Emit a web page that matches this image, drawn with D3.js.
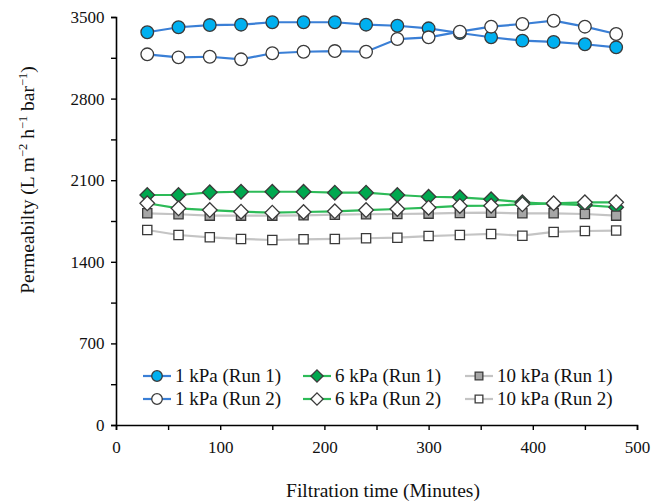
<!DOCTYPE html>
<html>
<head>
<meta charset="utf-8">
<script src="https://cdn.jsdelivr.net/npm/d3@7"></script>
<style>
  body { margin: 0; background: #fff; }
  text { font-family: "Liberation Serif", "Times New Roman", serif; fill: #111; }
</style>
</head>
<body>
<div id="chart"></div>
<script>
// filtration time (minutes)
const times = [30, 60, 90, 120, 150, 180, 210, 240, 270, 300, 330, 360, 390, 420, 450, 480];

// permeability values
const kpa1Run1 = [3369, 3412, 3431, 3434, 3455, 3455, 3455, 3434, 3425, 3403, 3363, 3326, 3297, 3286, 3266, 3240];
const kpa6Run1 = [1973, 1973, 1996, 2001, 2001, 2001, 1993, 1993, 1973, 1958, 1953, 1936, 1910, 1896, 1887, 1868];
const kpa10Run1 = [1816, 1808, 1796, 1796, 1796, 1799, 1804, 1808, 1810, 1813, 1819, 1821, 1816, 1816, 1810, 1796];
const kpa1Run2 = [3180, 3154, 3159, 3137, 3189, 3202, 3208, 3202, 3311, 3326, 3374, 3417, 3440, 3468, 3417, 3354];
const kpa6Run2 = [1902, 1859, 1844, 1830, 1821, 1827, 1833, 1844, 1853, 1864, 1879, 1881, 1893, 1902, 1910, 1910];
const kpa10Run2 = [1673, 1630, 1610, 1596, 1587, 1593, 1596, 1602, 1607, 1621, 1630, 1639, 1624, 1656, 1664, 1668];

const xTicks = [0, 100, 200, 300, 400, 500];
const yTicks = [0, 700, 1400, 2100, 2800, 3500];

// series in drawing (and legend) order
const series = [
    {name: "1 kPa (Run 1)", values: kpa1Run1, shape: "circle", fill: "#00b0f0", line: "#3a7fd6"},
    {name: "6 kPa (Run 1)", values: kpa6Run1, shape: "diamond", fill: "#00a84f", line: "#2dbb58"},
    {name: "10 kPa (Run 1)", values: kpa10Run1, shape: "square", fill: "#a6a6a6", line: "#c4c4c4"},
    {name: "1 kPa (Run 2)", values: kpa1Run2, shape: "circle", fill: "#ffffff", line: "#3a7fd6"},
    {name: "6 kPa (Run 2)", values: kpa6Run2, shape: "diamond", fill: "#ffffff", line: "#2dbb58"},
    {name: "10 kPa (Run 2)", values: kpa10Run2, shape: "square", fill: "#ffffff", line: "#c4c4c4"}
];

const W = 652, H = 504;
const margin = {top: 17, right: 15, bottom: 79, left: 116};
const width = W - margin.left - margin.right;
const height = H - margin.top - margin.bottom;

const svg = d3.select("#chart").append("svg")
    .attr("width", W)
    .attr("height", H);

const g = svg.append("g")
    .attr("transform", `translate(${margin.left}, ${margin.top})`);

// scales
const x = d3.scaleLinear().domain([0, 500]).range([0, width]);
const y = d3.scaleLinear().domain([0, 3500]).range([height, 0]);

// diamond symbol (square turned 45 degrees)
const symbolDiamond = {
    draw(context, size) {
        const r = Math.sqrt(size) * 0.75;
        context.moveTo(0, -r); context.lineTo(r, 0);
        context.lineTo(0, r); context.lineTo(-r, 0); context.closePath();
    }
};
const symbolType = {circle: d3.symbolCircle, diamond: symbolDiamond, square: d3.symbolSquare};
const symbolSize = {circle: 125, diamond: 95, square: 85};

// axes: minor ticks every half step, labels on major only
const xAxis = d3.axisBottom(x)
    .tickValues(d3.range(0, 501, 50))
    .tickSize(5)
    .tickFormat(d => xTicks.includes(d) ? d : "");
const yAxis = d3.axisLeft(y)
    .tickValues(d3.range(0, 3501, 350))
    .tickSize(5)
    .tickFormat(d => yTicks.includes(d) ? d : "");

const gx = g.append("g")
    .attr("transform", `translate(0, ${height})`)
    .call(xAxis);
const gy = g.append("g").call(yAxis);

[gx, gy].forEach(ax => {
    ax.select(".domain").attr("stroke", "#000").attr("stroke-width", 1.6);
    ax.selectAll(".tick line").attr("stroke", "#000").attr("stroke-width", 1.4);
    ax.selectAll(".tick text")
        .attr("font-family", "Liberation Serif")
        .attr("font-size", 17)
        .attr("fill", "#111");
});
gx.selectAll(".tick text").attr("dy", "1.2em");
gy.selectAll(".tick text").attr("dx", "-0.2em");

// axis titles
svg.append("text")
    .attr("x", 383)
    .attr("y", 497)
    .attr("text-anchor", "middle")
    .attr("font-size", 19.5)
    .text("Filtration time (Minutes)");

const yTitle = svg.append("text")
    .attr("transform", "translate(34, 180) rotate(-90)")
    .attr("text-anchor", "middle")
    .attr("font-size", 19.5);
yTitle.append("tspan").text("Permeabilty (L m");
yTitle.append("tspan").attr("font-size", 12.5).attr("dy", -7).text("\u22122");
yTitle.append("tspan").attr("dy", 7).text(" h");
yTitle.append("tspan").attr("font-size", 12.5).attr("dy", -7).text("\u22121");
yTitle.append("tspan").attr("dy", 7).text(" bar");
yTitle.append("tspan").attr("font-size", 12.5).attr("dy", -7).text("\u22121");
yTitle.append("tspan").attr("dy", 7).text(")");

function marker(sel, s, scale) {
    sel.attr("d", d3.symbol().type(symbolType[s.shape]).size(symbolSize[s.shape] * scale)())
        .attr("fill", s.fill)
        .attr("stroke", "#3a3a3a")
        .attr("stroke-width", 1.3);
}

const line = d3.line()
    .x((d, i) => x(times[i]))
    .y(d => y(d));

series.forEach(s => {
    const sg = g.append("g");
    sg.append("path")
        .datum(s.values)
        .attr("fill", "none")
        .attr("stroke", s.line)
        .attr("stroke-width", 2.2)
        .attr("d", line);
    sg.selectAll("path.pt")
        .data(s.values)
        .enter()
        .append("path")
        .attr("class", "pt")
        .attr("transform", (d, i) => `translate(${x(times[i])}, ${y(d)})`)
        .each(function () { marker(d3.select(this), s, 1); });
});

// legend: 3 columns, 2 rows
const legendCols = [143, 303, 465];
const legendRows = [376, 399];
series.forEach((s, i) => {
    const lx = legendCols[i % 3];
    const ly = legendRows[Math.floor(i / 3)];
    const lg = svg.append("g").attr("transform", `translate(${lx}, ${ly})`);
    lg.append("line")
        .attr("x1", 0).attr("x2", 28)
        .attr("stroke", s.line)
        .attr("stroke-width", 2.2);
    lg.append("path")
        .attr("transform", "translate(14, 0)")
        .each(function () { marker(d3.select(this), s, 0.7); });
    lg.append("text")
        .attr("x", 32)
        .attr("dy", "0.33em")
        .attr("font-size", 19)
        .text(s.name);
});
</script>
</body>
</html>
